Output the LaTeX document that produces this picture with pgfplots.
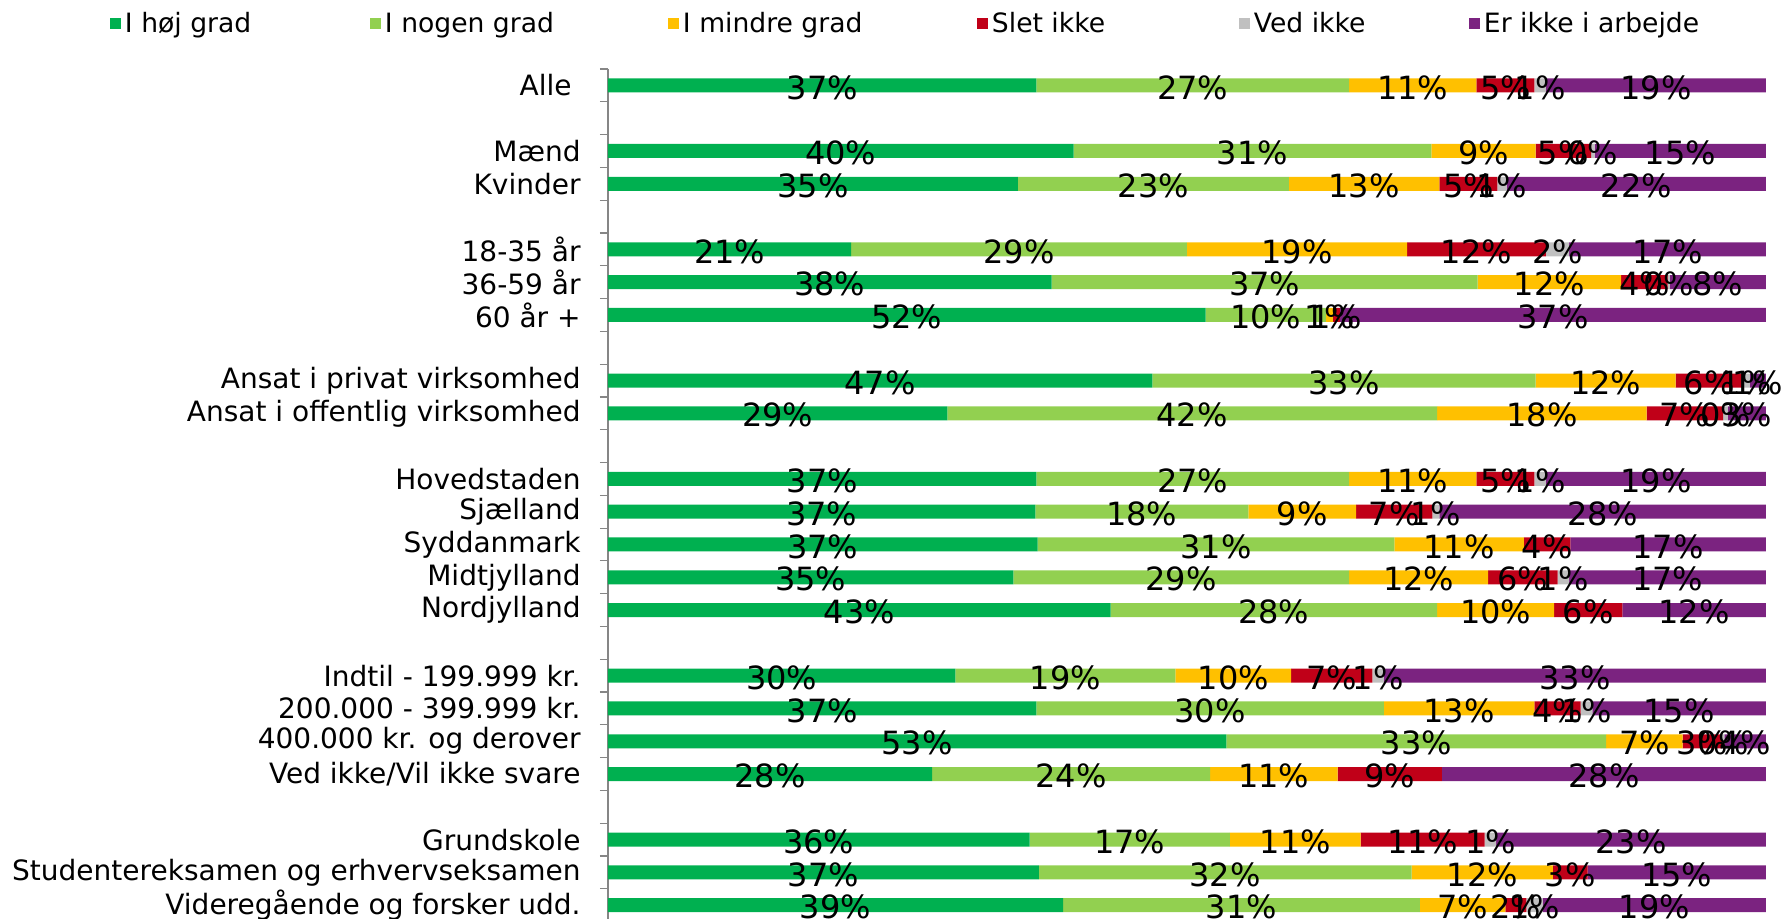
\documentclass[border=0pt]{standalone}
\usepackage{pgfplots}
\pgfplotsset{compat=1.18}
\usepackage{pgfplotstable}
\usepackage{fontspec}
\setmainfont{DejaVu Sans}
\definecolor{choj}{HTML}{00B050}
\definecolor{cnogen}{HTML}{92D050}
\definecolor{cmindre}{HTML}{FFC000}
\definecolor{cslet}{HTML}{C00018}
\definecolor{cved}{HTML}{C0C0C0}
\definecolor{carb}{HTML}{7B2380}
\definecolor{axgray}{HTML}{868686}

\pgfplotstableread{
y hoj nogen mindre slet vedikke arbejde
0 37 27 11 5 1 19
2 40.2 30.9 9.0 4.8 0.3 14.8
3 35.4 23.4 13.0 5.0 0.8 22.4
5 21 29 19 12 2 17
6 38.3 36.8 12.4 4.0 0.2 8.3
7 51.6 10.4 0.6 0.6 0 36.8
9 47.0 33.1 12.1 5.8 0.6 1.4
10 29.3 42.3 18.1 6.6 0.4 3.3
12 37 27 11 5 1 19
13 36.9 18.4 9.3 6.6 0.6 28.2
14 37.1 30.8 11.2 4.0 0 16.9
15 35 29 12 6 1 17
16 43.4 28.2 10.1 5.9 0 12.4
18 30 19 10 7 1 33
19 37 30 13 4 1 15
20 53.4 32.8 6.6 3.4 0.2 3.6
21 28 24 11 9 0 28
23 36.4 17.3 11.3 10.7 1.0 23.3
24 37.2 32.2 12.2 3.0 0 15.4
25 39.3 30.8 7.4 1.8 1.4 19.3
}\data

\begin{document}
\begin{tikzpicture}
\begin{axis}[
  scale only axis,
  width=579pt, height=425pt,
  xbar stacked,
  bar width=7pt,
  xmin=0, xmax=100,
  ymin=-0.5, ymax=25.42,
  y dir=reverse,
  clip=false,
  hide x axis,
  axis y line*=left,
  y axis line style={draw=axgray, line width=0.6pt},
  ytick={0,2,3,5,6,7,9,10,12,13,14,15,16,18,19,20,21,23,24,25},
  yticklabels={Alle\kern4.5pt,Mænd,Kvinder,18-35 år,36-59 år,60 år +,Ansat i privat virksomhed,Ansat i offentlig virksomhed,Hovedstaden,Sjælland,Syddanmark,Midtjylland,Nordjylland,Indtil - 199.999 kr.,200.000 - 399.999 kr.,400.000 kr. og derover,Ved ikke/Vil ikke svare,Grundskole,Studentereksamen og erhvervseksamen,Videregående og forsker udd.},
  minor ytick={-0.5,0.5,...,25.5},
  ytick align=outside,
  ytick pos=left,
  major tick length=0pt,
  minor tick length=4pt,
  tick style={draw=axgray, line width=0.6pt},
  yticklabel style={anchor=east, inner sep=0pt, xshift=-13.5pt, font=\fontsize{14pt}{16pt}\selectfont},
  /pgf/number format/assume math mode=true,
  visualization depends on={rawx \as \rawx},
  nodes near coords={\ifdim\rawx pt>0pt \pgfmathprintnumber[fixed,precision=0,assume math mode=true]{\rawx}\%\fi},
  nodes near coords align={center},
  every node near coord/.append style={anchor=center, yshift=-1pt, font=\fontsize{16pt}{18pt}\selectfont, text=black, inner sep=0pt},
  legend columns=6,
  legend cell align={left},
  legend image code/.code={\fill[#1] (0pt,-2.75pt) rectangle (5.5pt,2.75pt);},
  legend style={at={(axis description cs:0,1)}, anchor=west, xshift=-249pt, yshift=22.5pt,
    draw=none, fill=none, inner sep=0pt, outer sep=0pt,
    nodes={inner sep=0pt, anchor=west},
    /tikz/every odd column/.style={column sep=2pt},
    font=\fontsize{13.3pt}{15pt}\selectfont},
]
\addplot[fill=choj, draw=none] table[x=hoj, y=y] {\data};
\addplot[fill=cnogen, draw=none] table[x=nogen, y=y] {\data};
\addplot[fill=cmindre, draw=none] table[x=mindre, y=y] {\data};
\addplot[fill=cslet, draw=none] table[x=slet, y=y] {\data};
\addplot[fill=cved, draw=none] table[x=vedikke, y=y] {\data};
\addplot[fill=carb, draw=none] table[x=arbejde, y=y] {\data};
\legend{\makebox[122.5pt][l]{I høj grad},\makebox[141.5pt][l]{I nogen grad},\makebox[147pt][l]{I mindre grad},\makebox[123.5pt][l]{Slet ikke},\makebox[107.5pt][l]{Ved ikke},Er ikke i arbejde}
\end{axis}
\pgfresetboundingbox
\path[use as bounding box] (-304pt,0pt) rectangle (588.5pt,459.5pt);
\end{tikzpicture}
\end{document}
